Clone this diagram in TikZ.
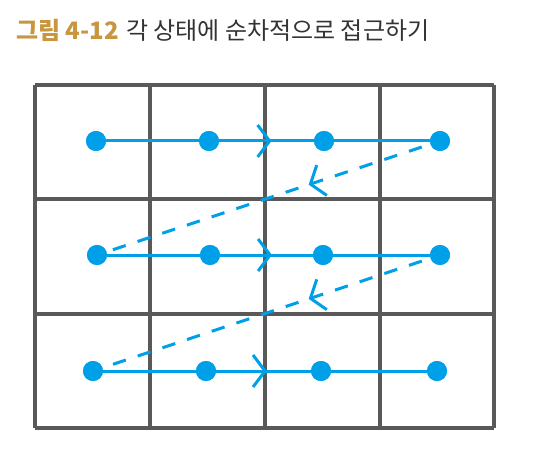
\documentclass[tikz,border=0pt]{standalone}
\usepackage{fontspec}
\newfontfamily\krfont{Noto Sans CJK KR}
\usetikzlibrary{decorations.markings}
\definecolor{dotblue}{HTML}{00A0E9}
\definecolor{gridgray}{HTML}{595959}
\definecolor{titlegold}{HTML}{C8963E}
\definecolor{titletext}{HTML}{333333}
\tikzset{
  gridline/.style={draw=gridgray, line width=3.4pt},
  dot/.style={circle, fill=dotblue, inner sep=0pt, minimum size=20pt},
  chev/.style={decoration={markings, mark=at position #1 with {
      \draw[dotblue, line width=3pt, solid] (-12pt,16pt) -- (0pt,0pt) -- (-12pt,-16pt);}},
      postaction={decorate}},
  rowline/.style={draw=dotblue, line width=3pt},
  backline/.style={draw=dotblue, line width=3pt, dash pattern=on 13.5pt off 12.5pt, dash phase=17pt}
}
\begin{document}
\begin{tikzpicture}[x=1pt, y=-1pt]
\useasboundingbox (0,0) rectangle (546,457);
% title
\node[anchor=west, inner sep=0pt, font=\fontsize{24}{27}\selectfont] (title) at (16,30)
  {{\krfont\bfseries\color{titlegold}그림 4-12} {\krfont\color{titletext}각 상태에 순차적으로 접근하기}};
% grid
\foreach \x in {35,150,265,380,494} \draw[gridline] (\x,85) -- (\x,428);
\foreach \y in {85,199,314,428} \draw[gridline] (35,\y) -- (494,\y);
% dots
\node[dot] (a1) at (96,141) {};
\node[dot] (a2) at (209,141) {};
\node[dot] (a3) at (324,141) {};
\node[dot] (a4) at (440,141) {};
\node[dot] (b1) at (97,255) {};
\node[dot] (b2) at (210,255) {};
\node[dot] (b3) at (323,255) {};
\node[dot] (b4) at (440,255) {};
\node[dot] (c1) at (93,371) {};
\node[dot] (c2) at (206,371) {};
\node[dot] (c3) at (321,371) {};
\node[dot] (c4) at (437,371) {};
% row lines
\draw[rowline, chev=0.505] (a1) -- (a4);
\draw[rowline, chev=0.505] (b1) -- (b4);
\draw[rowline, chev=0.5] (c1) -- (c4);
% return lines
\draw[backline, chev=0.3705] (a4) -- (b1);
\draw[backline, chev=0.366] (b4) -- (c1);
% redraw dots on top
\foreach \n in {a1,a2,a3,a4,b1,b2,b3,b4,c1,c2,c3,c4} \fill[dotblue] (\n.center) circle (10pt);
\end{tikzpicture}
\end{document}
